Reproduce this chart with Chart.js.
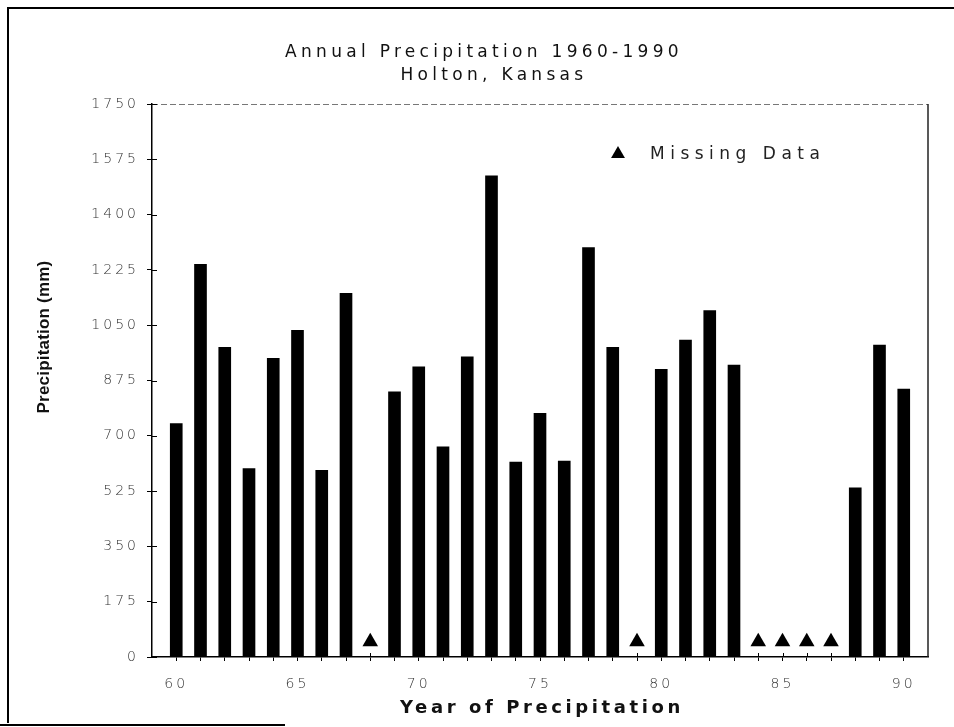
<!DOCTYPE html>
<html>
<head>
<meta charset="utf-8">
<title>Annual Precipitation 1960-1990, Holton, Kansas</title>
<script src="https://cdn.jsdelivr.net/npm/chart.js@4/dist/chart.umd.min.js"></script>
<style>
  html, body { margin: 0; padding: 0; background: #fff; }
  canvas { display: block; }
</style>
</head>
<body>
<canvas id="chart" width="954" height="727"></canvas>
<script>
// annual totals (mm), years given as two digits
const years  = [60, 61, 62, 63, 64, 65, 66, 67, 69, 70, 71, 72, 73, 74, 75, 76, 77, 78, 80, 81, 82, 83, 88, 89, 90];
const precip = [739, 1243, 980, 596, 945, 1034, 591, 1151, 839, 918, 665, 950, 1523, 617, 771, 620, 1296, 980, 910, 1003, 1096, 924, 535, 987, 848];

// years with no record, flagged by a marker just above the axis
const missingYears = [68, 79, 84, 85, 86, 87];
const missingMarkY = 48;

const yTicks = [0, 175, 350, 525, 700, 875, 1050, 1225, 1400, 1575, 1750];
const xTicks = [60, 61, 62, 63, 64, 65, 66, 67, 68, 69, 70, 71, 72, 73, 74, 75, 76, 77, 78, 79, 80, 81, 82, 83, 84, 85, 86, 87, 88, 89, 90];

const titleLines = ['Annual Precipitation 1960-1990', 'Holton, Kansas'];
const xTitle = 'Year of Precipitation';
const yTitle = 'Precipitation (mm)';
const legendText = 'Missing Data';

function spacedText(ctx, text, x, y, font, spacing, color, align, rotation) {
  ctx.save();
  ctx.font = font;
  ctx.letterSpacing = spacing + 'px';
  ctx.fillStyle = color;
  ctx.textAlign = align || 'center';
  ctx.textBaseline = 'middle';
  ctx.translate(x, y);
  if (rotation) ctx.rotate(rotation);
  ctx.fillText(text, 0, 0);
  ctx.restore();
}

const decorations = {
  id: 'decorations',
  beforeDraw(chart) {
    // wide spacing for the tick numbers
    chart.ctx.letterSpacing = '3px';
  },
  afterDraw(chart) {
    const ctx = chart.ctx;
    const a = chart.chartArea;
    const xs = chart.scales.x, ys = chart.scales.y;
    ctx.save();
    ctx.letterSpacing = '0px';

    // page frame
    ctx.strokeStyle = '#000';
    ctx.lineWidth = 2;
    ctx.beginPath();
    ctx.moveTo(7, 8); ctx.lineTo(954, 8);
    ctx.moveTo(8, 8); ctx.lineTo(8, 723);
    ctx.moveTo(0, 725); ctx.lineTo(285, 725);
    ctx.stroke();

    // plot box: dashed top, solid right
    ctx.strokeStyle = '#777';
    ctx.lineWidth = 1;
    ctx.setLineDash([6, 3]);
    ctx.beginPath();
    ctx.moveTo(a.left, a.top + 0.5); ctx.lineTo(a.right, a.top + 0.5);
    ctx.stroke();
    ctx.setLineDash([]);
    ctx.strokeStyle = '#222';
    ctx.lineWidth = 1.5;
    ctx.beginPath();
    ctx.moveTo(a.right, a.top); ctx.lineTo(a.right, a.bottom);
    ctx.stroke();

    // tick marks crossing into the plot
    ctx.strokeStyle = '#000';
    ctx.lineWidth = 1;
    ctx.beginPath();
    ys.ticks.forEach(t => {
      const py = Math.round(ys.getPixelForValue(t.value)) + 0.5;
      ctx.moveTo(a.left, py); ctx.lineTo(a.left + 5, py);
    });
    xs.ticks.forEach(t => {
      const px = Math.round(xs.getPixelForValue(t.value)) + 0.5;
      ctx.moveTo(px, a.bottom); ctx.lineTo(px, a.bottom - 4);
    });
    ctx.stroke();
    ctx.restore();

    // titles
    spacedText(ctx, titleLines[0], 484, 53, '17px "DejaVu Sans"', 4.3, '#111');
    spacedText(ctx, titleLines[1], 494, 76, '17px "DejaVu Sans"', 4.3, '#111');
    spacedText(ctx, xTitle, 542, 708, 'bold 18px "DejaVu Sans"', 3.6, '#111');
    spacedText(ctx, yTitle, 44, 337, 'bold 17px "Liberation Sans"', 0.2, '#111', 'center', -Math.PI / 2);

    // legend
    ctx.save();
    ctx.fillStyle = '#000';
    Chart.helpers.drawPoint(ctx, { pointStyle: 'triangle', radius: 8, borderWidth: 0 }, 618, 154);
    ctx.restore();
    spacedText(ctx, legendText, 650, 155, '17px "DejaVu Sans"', 5.5, '#222', 'left');
  }
};

new Chart(document.getElementById('chart'), {
  type: 'bar',
  data: {
    datasets: [
      {
        type: 'bar',
        label: 'Precipitation',
        data: years.map((yr, i) => ({ x: yr, y: precip[i] })),
        backgroundColor: '#000',
        borderWidth: 0,
        barThickness: 12,
        order: 2
      },
      {
        type: 'scatter',
        label: legendText,
        data: missingYears.map(yr => ({ x: yr, y: missingMarkY })),
        pointStyle: 'triangle',
        radius: 9,
        backgroundColor: '#000',
        borderColor: '#000',
        borderWidth: 0,
        order: 1
      }
    ]
  },
  options: {
    responsive: false,
    animation: false,
    events: [],
    layout: { padding: { top: 104, right: 26, left: 0, bottom: 0 } },
    plugins: {
      legend: { display: false },
      title: { display: false },
      tooltip: { enabled: false }
    },
    scales: {
      x: {
        type: 'linear',
        min: 59,
        max: 91,
        offset: false,
        afterBuildTicks: s => { s.ticks = xTicks.map(v => ({ value: v })); },
        afterFit: s => { s.height = 70; },
        grid: { offset: false, drawOnChartArea: false, color: '#000', tickLength: 4 },
        border: { display: true, color: '#000', width: 1.5 },
        ticks: {
          autoSkip: false,
          maxRotation: 0,
          padding: 15,
          color: '#333',
          font: { family: 'DejaVu Sans', size: 14, weight: '200' },
          callback: v => (v % 5 === 0 ? String(v) : '')
        }
      },
      y: {
        min: 0,
        max: 1750,
        afterBuildTicks: s => { s.ticks = yTicks.map(v => ({ value: v })); },
        afterFit: s => { s.width = 152; },
        grid: { drawOnChartArea: false, color: '#000', tickLength: 5 },
        border: { display: true, color: '#000', width: 1.5 },
        ticks: {
          padding: 8,
          color: '#333',
          font: { family: 'DejaVu Sans', size: 14, weight: '200' },
          callback: v => String(v)
        }
      }
    }
  },
  plugins: [decorations]
});
</script>
</body>
</html>
